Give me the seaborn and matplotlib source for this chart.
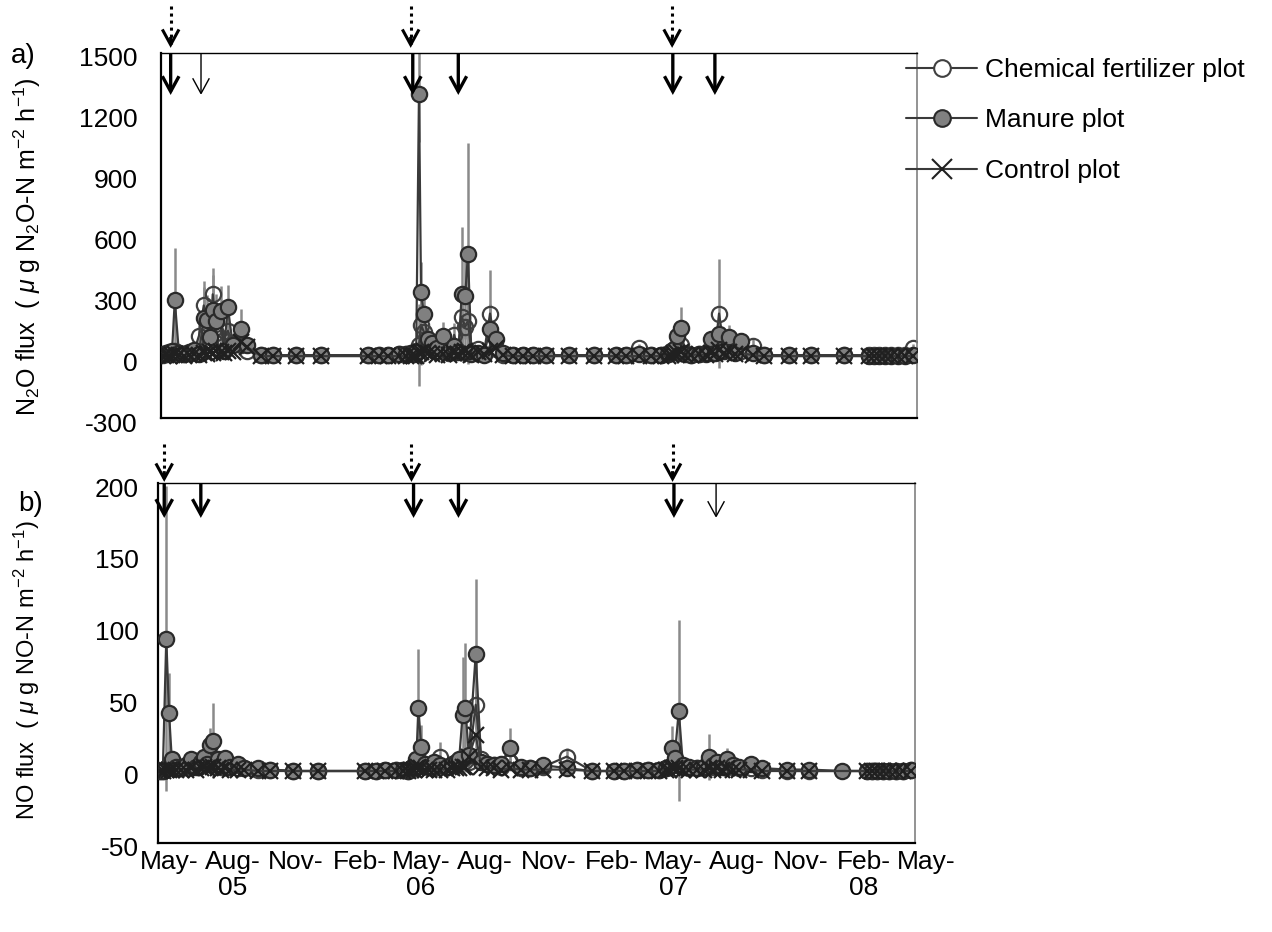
import numpy as np
import pandas as pd
import matplotlib
matplotlib.use("Agg")
import matplotlib.pyplot as plt
import matplotlib.dates as mdates
from matplotlib.lines import Line2D
from matplotlib.transforms import ScaledTranslation, blended_transform_factory
import seaborn as sns

# ---------------- data ----------------
dates = [
    "2005-05-04", "2005-05-08", "2005-05-13", "2005-05-17", "2005-05-21", "2005-05-27",
    "2005-06-03", "2005-06-11", "2005-06-18", "2005-06-25", "2005-07-02", "2005-07-07",
    "2005-07-11", "2005-07-15", "2005-07-20", "2005-07-27", "2005-07-31", "2005-08-06",
    "2005-08-13", "2005-08-25", "2005-09-03", "2005-09-23", "2005-10-10", "2005-11-13",
    "2005-12-19", "2006-02-25", "2006-03-13", "2006-03-26", "2006-04-11", "2006-04-21",
    "2006-04-28", "2006-05-03", "2006-05-06", "2006-05-10", "2006-05-13", "2006-05-17",
    "2006-05-23", "2006-05-29", "2006-06-05", "2006-06-14", "2006-06-23", "2006-06-30",
    "2006-07-06", "2006-07-11", "2006-07-16", "2006-07-20", "2006-07-25", "2006-08-04",
    "2006-08-12", "2006-08-21", "2006-08-30", "2006-09-09", "2006-09-23", "2006-10-08",
    "2006-10-22", "2006-11-10", "2006-12-14", "2007-01-19", "2007-02-20", "2007-03-06",
    "2007-03-25", "2007-04-11", "2007-04-26", "2007-05-06", "2007-05-11", "2007-05-15",
    "2007-05-19", "2007-05-25", "2007-05-31", "2007-06-09", "2007-06-20", "2007-06-30",
    "2007-07-08", "2007-07-13", "2007-07-19", "2007-07-26", "2007-08-03", "2007-08-11",
    "2007-08-20", "2007-09-06", "2007-09-22", "2007-10-29", "2007-11-30", "2008-01-16",
    "2008-02-22", "2008-02-29", "2008-03-07", "2008-03-16", "2008-03-24", "2008-04-04",
    "2008-04-14", "2008-04-25",
]

# N2O flux (ug N2O-N m-2 h-1)
n2o_chem = [
    10, 15, 20, 25, 30, 20, 15, 20, 30, 105, 255, 150, 80, 310, 120, 95, 85, 130, 70, 60,
    30, 10, 10, 10, 10, 10, 10, 10, 15, 15, 20, 20, 30, 60, 160, 125, 80, 50, 30, 40,
    20, 110, 30, 200, 150, 180, 20, 40, 15, 215, 40, 10, 10, 10, 10, 10, 10, 10, 10, 10,
    45, 10, 10, 15, 20, 25, 40, 60, 20, 10, 15, 20, 40, 30, 215, 50, 40, 30, 30, 55,
    10, 10, 10, 10, 10, 10, 10, 10, 10, 10, 10, 45,
]
n2o_manure = [
    15, 20, 25, 30, 280, 20, 15, 25, 35, 15, 195, 185, 100, 235, 180, 230, 30, 245, 60, 140,
    60, 10, 10, 10, 10, 10, 10, 10, 15, 15, 20, 15, 25, 1300, 320, 215, 90, 70, 45, 105,
    30, 55, 25, 310, 300, 510, 15, 20, 10, 140, 90, 20, 10, 10, 10, 10, 10, 10, 10, 10,
    15, 10, 10, 15, 30, 40, 105, 145, 15, 10, 15, 15, 90, 20, 115, 30, 100, 20, 80, 20,
    10, 10, 10, 10, 5, 5, 5, 5, 5, 5, 5, 10,
]
n2o_control = [
    5, 10, 5, 10, 15, 10, 5, 10, 15, 10, 20, 15, 25, 20, 30, 25, 20, 30, 25, 75,
    50, 5, 5, 5, 5, 5, 5, 5, 5, 5, 5, 5, 5, 20, 25, 30, 20, 15, 10, 15,
    10, 20, 15, 25, 30, 20, 10, 25, 15, 30, 45, 10, 5, 5, 5, 5, 5, 5, 5, 5,
    5, 5, 5, 5, 10, 15, 20, 25, 10, 10, 15, 10, 20, 15, 35, 20, 25, 15, 20, 10,
    5, 5, 5, 5, 5, 5, 5, 5, 5, 5, 5, 5,
]
n2o_chem_err = [
    5, 5, 10, 10, 10, 10, 5, 10, 10, 80, 120, 60, 40, 130, 50, 40, 40, 110, 30, 30,
    10, 5, 5, 5, 5, 5, 5, 5, 5, 5, 5, 10, 10, 200, 200, 100, 40, 30, 20, 20,
    10, 60, 10, 150, 60, 200, 10, 20, 10, 215, 20, 5, 5, 5, 5, 5, 5, 5, 5, 5,
    20, 5, 5, 5, 10, 10, 20, 30, 10, 5, 5, 10, 20, 10, 270, 20, 20, 10, 10, 40,
    5, 5, 5, 5, 5, 5, 5, 5, 5, 5, 5, 20,
]
n2o_manure_err = [
    10, 10, 15, 15, 260, 10, 10, 15, 20, 10, 150, 120, 80, 170, 130, 120, 20, 110, 30, 100,
    30, 5, 5, 5, 5, 5, 5, 5, 5, 5, 10, 10, 10, 240, 150, 120, 60, 40, 20, 70,
    15, 30, 15, 330, 250, 545, 10, 10, 5, 120, 40, 10, 5, 5, 5, 5, 5, 5, 5, 5,
    10, 5, 5, 10, 20, 20, 60, 100, 10, 5, 10, 10, 40, 10, 60, 20, 60, 10, 40, 10,
    5, 5, 5, 5, 5, 5, 5, 5, 5, 5, 5, 5,
]

# NO flux (ug NO-N m-2 h-1)
no_chem = [
    0, 0, 2, 3, 4, 2, 2, 3, 4, 5, 6, 8, 5, 7, 6, 4, 3, 5, 3, 2,
    2, 1, 1, 0, 0, 0, 0, 1, 1, 1, 0, 2, 3, 6, 8, 5, 4, 3, 2, 10,
    3, 4, 5, 6, 8, 7, 6, 46, 8, 5, 4, 3, 6, 2, 2, 3, 10, 0, 0, 0,
    1, 1, 1, 2, 3, 4, 5, 4, 3, 2, 2, 3, 4, 3, 5, 4, 3, 3, 2, 2,
    1, 0, 0, np.nan, 0, 0, 0, 0, 0, 0, 0, 1,
]
no_manure = [
    0, 0, 92, 40, 8, 3, 2, 4, 8, 3, 6, 10, 5, 18, 21, 8, 4, 9, 3, 5,
    2, 2, 1, 0, 0, 0, 0, 1, 1, 1, 0, 2, 3, 8, 44, 17, 5, 3, 6, 4,
    3, 5, 6, 8, 39, 44, 11, 81, 6, 5, 4, 5, 16, 3, 2, 4, 2, 0, 0, 0,
    1, 1, 1, 2, 3, 16, 9, 42, 4, 3, 2, 3, 10, 4, 6, 3, 8, 4, 3, 5,
    2, 1, 1, 0, 0, 0, 0, 0, 0, 0, 0, 1,
]
no_control = [
    0, 0, 1, 1, 1, 1, 1, 1, 2, 1, 2, 3, 2, 3, 3, 2, 1, 2, 1, 1,
    1, 0, 0, 0, 0, 0, 0, 0, 0, 0, 0, 1, 1, 2, 3, 2, 1, 1, 1, 1,
    1, 2, 2, 2, 3, 3, 10, 25, 3, 2, 2, 1, 2, 1, 1, 1, 1, 0, 0, 0,
    0, 0, 0, 1, 1, 2, 2, 2, 1, 1, 1, 1, 2, 1, 2, 1, 2, 1, 1, 1,
    0, 0, 0, np.nan, 0, 0, 0, 0, 0, 0, 0, 0,
]
no_chem_err = [
    0, 0, 2, 2, 2, 1, 1, 2, 2, 3, 3, 4, 3, 4, 3, 2, 2, 3, 2, 1,
    1, 1, 1, 0, 0, 0, 0, 1, 1, 1, 0, 1, 2, 3, 4, 3, 2, 2, 1, 10,
    2, 2, 3, 3, 4, 4, 3, 30, 4, 3, 2, 2, 3, 1, 1, 2, 6, 0, 0, 0,
    1, 1, 1, 1, 2, 2, 3, 2, 2, 1, 1, 2, 2, 2, 3, 2, 2, 2, 1, 1,
    1, 0, 0, 0, 0, 0, 0, 0, 0, 0, 0, 1,
]
no_manure_err = [
    0, 0, 106, 28, 5, 2, 1, 2, 4, 2, 3, 5, 3, 12, 26, 4, 2, 4, 2, 3,
    1, 1, 1, 0, 0, 0, 0, 1, 1, 1, 0, 1, 2, 5, 41, 15, 3, 2, 4, 2,
    2, 3, 3, 5, 40, 45, 6, 52, 4, 3, 2, 3, 14, 2, 1, 2, 1, 0, 0, 0,
    1, 1, 1, 1, 2, 15, 5, 63, 2, 2, 1, 2, 16, 2, 3, 2, 8, 2, 2, 3,
    1, 1, 1, 0, 0, 0, 0, 0, 0, 0, 0, 1,
]

tick_dates = ["2005-05-01", "2005-08-01", "2005-11-01", "2006-02-01", "2006-05-01",
              "2006-08-01", "2006-11-01", "2007-02-01", "2007-05-01", "2007-08-01",
              "2007-11-01", "2008-02-01", "2008-05-01"]
tick_labels = ["May-", "Aug-\n05", "Nov-", "Feb-", "May-\n06", "Aug-", "Nov-", "Feb-",
               "May-\n07", "Aug-", "Nov-", "Feb-\n08", "May-"]

legend_labels = ["Chemical fertilizer plot", "Manure plot", "Control plot"]

# fertilization events (arrows)
n2o_thick_arrows = ["2005-05-15", "2006-05-01", "2006-07-06", "2007-05-13", "2007-07-13"]
n2o_thin_arrows = ["2005-06-28"]
n2o_dotted_arrows = ["2005-05-15", "2006-04-28", "2007-05-12"]
no_thick_arrows = ["2005-05-10", "2005-07-02", "2006-05-06", "2006-07-10", "2007-05-18"]
no_thin_arrows = ["2007-07-18"]
no_dotted_arrows = ["2005-05-10", "2006-05-03", "2007-05-16"]

# ---------------- style ----------------
sns.set_theme(style="white")
plt.rcParams["font.family"] = ["Liberation Sans", "DejaVu Sans"]
plt.rcParams["mathtext.fontset"] = "custom"
plt.rcParams["mathtext.rm"] = "Liberation Sans"
plt.rcParams["mathtext.it"] = "Liberation Sans:italic"
plt.rcParams["mathtext.default"] = "regular"
plt.rcParams["axes.unicode_minus"] = False
plt.rcParams["text.color"] = "black"

FS = 19
LINE = "#3a3a3a"
ERR = "#8a8a8a"
FILL = "#808080"
MS = 11

W, H = 1272, 932
fig = plt.figure(figsize=(W / 100, H / 100), dpi=100)
ax1 = fig.add_axes([161 / W, 1 - 418 / H, 756 / W, 365 / H])
ax2 = fig.add_axes([158 / W, 1 - 843 / H, 757 / W, 360 / H])

x_all = pd.to_datetime(pd.Series(dates))


def draw_series(ax, chem, man, ctl, chem_err, man_err):
    chem = np.asarray(chem, float)
    man = np.asarray(man, float)
    ctl = np.asarray(ctl, float)
    for vals, errs in ((chem, np.asarray(chem_err, float)), (man, np.asarray(man_err, float))):
        m = ~np.isnan(vals)
        ax.vlines(x_all[m], vals[m] - errs[m], vals[m] + errs[m], color=ERR, lw=1.8, zorder=1)
    m = ~np.isnan(chem)
    sns.lineplot(x=x_all[m].values, y=chem[m], ax=ax, color=LINE, lw=1.6, marker="o",
                 markersize=MS, markerfacecolor="none", markeredgecolor="#404040",
                 markeredgewidth=1.6, zorder=2)
    m = ~np.isnan(man)
    sns.lineplot(x=x_all[m].values, y=man[m], ax=ax, color=LINE, lw=1.6, marker="o",
                 markersize=MS, markerfacecolor=FILL, markeredgecolor="#2a2a2a",
                 markeredgewidth=1.6, zorder=3)
    m = ~np.isnan(ctl)
    sns.lineplot(x=x_all[m].values, y=ctl[m], ax=ax, color=LINE, lw=1.6, marker="x",
                 markersize=MS + 1, markeredgecolor="#202020", markeredgewidth=1.6, zorder=4)


draw_series(ax1, n2o_chem, n2o_manure, n2o_control, n2o_chem_err, n2o_manure_err)
draw_series(ax2, no_chem, no_manure, no_control, no_chem_err, no_manure_err)

xlim = (pd.Timestamp("2005-05-01"), pd.Timestamp("2008-05-01"))
tick_pos = pd.to_datetime(tick_dates)
for ax in (ax1, ax2):
    ax.set_xlim(*xlim)
    ax.set_xticks(tick_pos)
    ax.set_xlabel("")
    ax.set_ylabel("")
    ax.grid(False)
    ax.tick_params(axis="both", direction="in", length=7, width=1.2, color="black",
                   labelsize=FS, labelcolor="black")
    for s in ("left", "bottom"):
        ax.spines[s].set_color("black")
        ax.spines[s].set_linewidth(1.6)
    ax.spines["top"].set_color("black")
    ax.spines["top"].set_linewidth(1.0)
    ax.spines["right"].set_color("#808080")
    ax.spines["right"].set_linewidth(1.2)
    for s in ax.spines.values():
        s.set_visible(True)

ax1.set_ylim(-300, 1500)
ax1.set_yticks([-300, 0, 300, 600, 900, 1200, 1500])
ax1.set_xticklabels([])
ax1.tick_params(axis="y", pad=17)

ax2.set_ylim(-50, 200)
ax2.set_yticks([-50, 0, 50, 100, 150, 200])
ax2.set_xticklabels(tick_labels, linespacing=1.1)
ax2.tick_params(axis="y", pad=14)
ax2.tick_params(axis="x", pad=5)

off_x = ScaledTranslation(11 / 100, 0, fig.dpi_scale_trans)
for lab in ax2.get_xticklabels():
    lab.set_transform(lab.get_transform() + off_x)
    lab.set_multialignment("center")
off_y = ScaledTranslation(0, -4 / 100, fig.dpi_scale_trans)
for ax in (ax1, ax2):
    for lab in ax.get_yticklabels():
        lab.set_transform(lab.get_transform() + off_y)


# ---------------- arrows ----------------
def arrow(ax, d, y_start, y_tip, lw, dotted=False):
    tr = blended_transform_factory(ax.transData, ax.transAxes)
    x = mdates.date2num(pd.Timestamp(d))
    hp = dict(arrowstyle="->,head_length=0.55,head_width=0.3", lw=lw, color="black",
              shrinkA=0, shrinkB=0, mutation_scale=20, capstyle="butt", joinstyle="miter")
    if dotted:
        ax.plot([x, x], [y_start, y_tip + 0.01], transform=tr, color="black", lw=lw,
                ls=(0, (1, 1.3)), clip_on=False, zorder=6)
        ax.annotate("", xy=(x, y_tip), xytext=(x, y_tip + 0.03), xycoords=tr,
                    textcoords=tr, arrowprops=hp, zorder=6)
    else:
        ax.annotate("", xy=(x, y_tip), xytext=(x, y_start), xycoords=tr,
                    textcoords=tr, arrowprops=hp, zorder=6)


for d in n2o_thick_arrows:
    arrow(ax1, d, 1.0, 0.885, 2.4)
for d in n2o_thin_arrows:
    arrow(ax1, d, 1.0, 0.885, 1.0)
for d in n2o_dotted_arrows:
    arrow(ax1, d, 1.13, 1.014, 2.2, dotted=True)
for d in no_thick_arrows:
    arrow(ax2, d, 1.0, 0.903, 2.4)
for d in no_thin_arrows:
    arrow(ax2, d, 1.0, 0.903, 1.0)
for d in no_dotted_arrows:
    arrow(ax2, d, 1.108, 1.003, 2.2, dotted=True)

# ---------------- labels ----------------
fig.text(27 / W, 1 - 247 / H,
         r"N$_2$O flux  ( $\mathit{μ}$ g N$_2$O-N m$^{-2}$ h$^{-1}$)",
         rotation=90, ha="center", va="center", fontsize=18)
fig.text(27 / W, 1 - 670 / H,
         r"NO flux  ( $\mathit{μ}$ g NO-N m$^{-2}$ h$^{-1}$)",
         rotation=90, ha="center", va="center", fontsize=17)
fig.text(23 / W, 1 - 56 / H, "a)", ha="center", va="center", fontsize=FS + 1)
fig.text(31 / W, 1 - 504 / H, "b)", ha="center", va="center", fontsize=FS + 1)

# ---------------- legend ----------------
handles = [
    Line2D([0], [0], color=LINE, lw=1.5, marker="o", ms=MS + 1, mfc="white", mec="#404040", mew=1.5),
    Line2D([0], [0], color=LINE, lw=1.5, marker="o", ms=MS + 1, mfc=FILL, mec="#2a2a2a", mew=1.5),
    Line2D([0], [0], color=LINE, lw=1.5, marker="x", ms=MS + 3, mec="#202020", mew=1.5),
]
leg = fig.legend(handles, legend_labels, loc="upper left", bbox_to_anchor=(906 / W, 1 - 58 / H),
                 frameon=False, fontsize=FS, handlelength=2.7, handletextpad=0.3,
                 labelspacing=1.0, borderpad=0, borderaxespad=0)
for t in leg.get_texts():
    t.set_color("black")

fig.savefig("out.png", dpi=100)
